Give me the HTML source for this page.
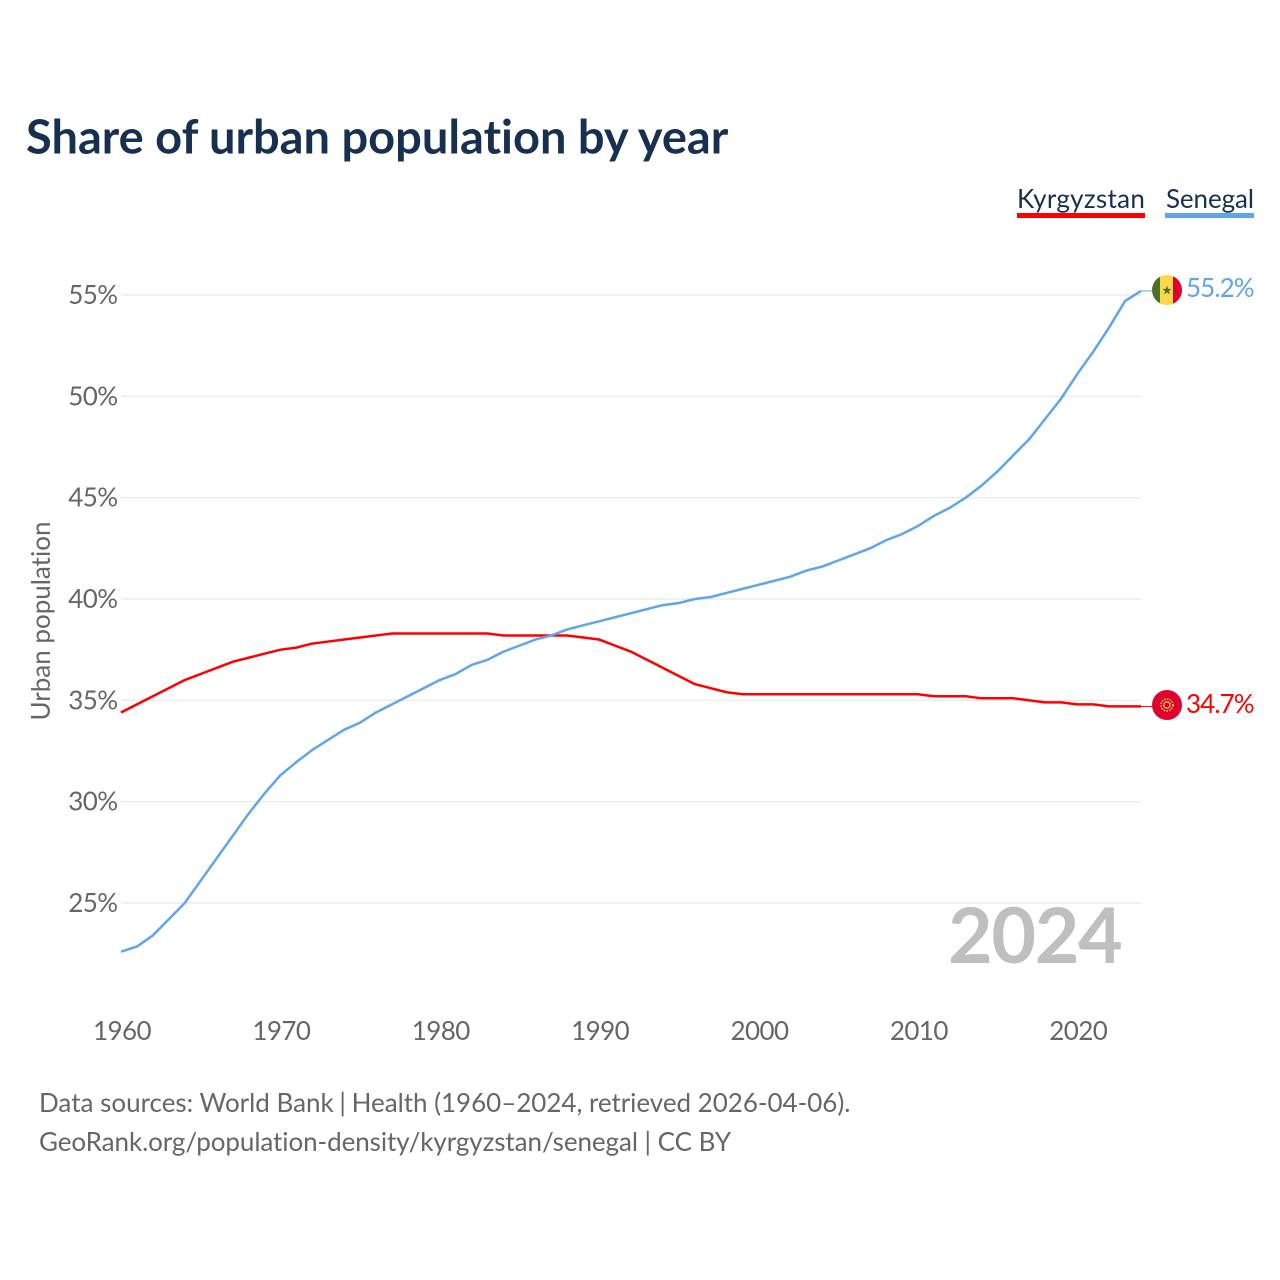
<!DOCTYPE html>
<html>
<head>
<meta charset="utf-8">
<title>Share of urban population by year</title>
<style>
html,body{margin:0;padding:0;background:#fff;}
svg{display:block;}
text{font-family:"Lato","Carlito","Liberation Sans",sans-serif;font-variant-ligatures:none;font-feature-settings:"liga" 0,"clig" 0;}
.num{letter-spacing:-0.6px;}
</style>
</head>
<body>
<svg id="chart" xmlns="http://www.w3.org/2000/svg" width="1280" height="1280" viewBox="0 0 1280 1280">
  <rect width="1280" height="1280" fill="#fff"/>
  <text x="26" y="153.5" font-size="47" font-weight="700" fill="#18304f">Share of urban population by year</text>
  <text x="1017" y="208" font-size="26" letter-spacing="0.3" fill="#18304f">Kyrgyzstan</text>
  <rect x="1017" y="213" width="128" height="5" fill="#ff0000"/>
  <text x="1166" y="208" font-size="26" letter-spacing="-0.1" fill="#18304f">Senegal</text>
  <rect x="1165" y="213" width="89" height="5" fill="#60a5ea"/>
  <g id="grid"></g>
  <g id="yticks"></g>
  <g id="xticks"></g>
  <text transform="translate(50,621) rotate(-90)" text-anchor="middle" font-size="26" fill="#666">Urban population</text>
  <text x="1121.5" y="963" text-anchor="end" font-size="77" font-weight="700" letter-spacing="-1.3" fill="#bfbfbf">2024</text>
  <g id="series"></g>
  <g>
    <clipPath id="senegal-clip"><circle cx="1167" cy="290" r="15"/></clipPath>
    <g clip-path="url(#senegal-clip)">
      <rect x="1152" y="275" width="10" height="30" fill="#4c7028"/>
      <rect x="1160" y="275" width="14" height="30" fill="#ffd84a"/>
      <rect x="1173" y="275" width="9" height="30" fill="#e0002d"/>
      <polygon points="1167,285.5 1168.2,288.9 1171.8,288.9 1168.9,291 1170,294.5 1167,292.4 1164,294.5 1165.1,291 1162.2,288.9 1165.8,288.9" fill="#4c7028"/>
    </g>
  </g>
  <text id="senegal-end-label" class="num" style="letter-spacing:-0.9px" x="1186" y="297" font-size="26" fill="#60a5ea">55.2%</text>
  <g>
    <circle cx="1167" cy="705" r="15" fill="#e0002d"/>
    <circle cx="1167" cy="705" r="6" fill="none" stroke="#ffd84a" stroke-width="1.6" stroke-dasharray="1.6 1.2"/>
    <circle cx="1167" cy="705" r="3.2" fill="none" stroke="#ffd84a" stroke-width="1.2"/>
  </g>
  <text id="kyrgyzstan-end-label" class="num" style="letter-spacing:-0.9px" x="1186" y="713" font-size="26" fill="#ff0000">34.7%</text>
  <text x="39" y="1112" font-size="26" fill="#666">Data sources: World Bank <tspan dx="-1">|</tspan> <tspan dx="-1" letter-spacing="-0.03">Health (1960–2024, retrieved 2026-04-06).</tspan></text>
  <text x="39" y="1151" font-size="26" fill="#666"><tspan letter-spacing="-0.08">GeoRank.org/population-density/kyrgyzstan/senegal </tspan>| CC BY</text>
</svg>
<script>
const startYear = 1960;
const yTickValues = [25, 30, 35, 40, 45, 50, 55];
const xTickValues = [1960, 1970, 1980, 1990, 2000, 2010, 2020];
const senegalValues = [22.6,22.85,23.4,24.2,25.0,26.1,27.2,28.3,29.4,30.4,31.3,31.95,32.55,33.05,33.55,33.9,34.4,34.8,35.2,35.6,36.0,36.3,36.75,37.0,37.4,37.7,38.0,38.2,38.5,38.7,38.9,39.1,39.3,39.5,39.7,39.8,40.0,40.1,40.3,40.5,40.7,40.9,41.1,41.4,41.6,41.9,42.2,42.5,42.9,43.2,43.6,44.1,44.5,45.0,45.6,46.3,47.1,47.9,48.9,49.9,51.1,52.2,53.4,54.7,55.2];
const kyrgyzstanValues = [34.4,34.8,35.2,35.6,36.0,36.3,36.6,36.9,37.1,37.3,37.5,37.6,37.8,37.9,38.0,38.1,38.2,38.3,38.3,38.3,38.3,38.3,38.3,38.3,38.2,38.2,38.2,38.2,38.2,38.1,38.0,37.7,37.4,37.0,36.6,36.2,35.8,35.6,35.4,35.3,35.3,35.3,35.3,35.3,35.3,35.3,35.3,35.3,35.3,35.3,35.3,35.2,35.2,35.2,35.1,35.1,35.1,35.0,34.9,34.9,34.8,34.8,34.7,34.7,34.7];

const NS = 'http://www.w3.org/2000/svg';
function xScale(year) { return 121 + (year - 1960) * (1141 - 121) / 64; }
function yScale(v) { return 903 - (v - 25) * (903 - 295) / 30; }

const gridGroup = document.getElementById('grid');
const yGroup = document.getElementById('yticks');
yTickValues.forEach(function (v) {
  const line = document.createElementNS(NS, 'line');
  
  
  line.setAttribute('x1', 121);
  line.setAttribute('x2', 1141);
  line.setAttribute('y1', yScale(v));
  line.setAttribute('y2', yScale(v));
  line.setAttribute('stroke', '#e8e8e8');
  line.setAttribute('stroke-width', 1.2);
  gridGroup.appendChild(line);
  const t = document.createElementNS(NS, 'text');
  
  
  t.setAttribute('class', 'num');
  t.setAttribute('x', 117.5);
  t.setAttribute('y', yScale(v) + 9);
  t.setAttribute('text-anchor', 'end');
  t.setAttribute('font-size', 26);
  t.setAttribute('fill', '#666');
  t.textContent = v + '%';
  yGroup.appendChild(t);
});

const xGroup = document.getElementById('xticks');
xTickValues.forEach(function (yr) {
  const t = document.createElementNS(NS, 'text');
  
  
  t.setAttribute('class', 'num');
  t.setAttribute('x', xScale(yr) + 1);
  t.setAttribute('y', 1040);
  t.setAttribute('text-anchor', 'middle');
  t.setAttribute('font-size', 26);
  t.setAttribute('fill', '#666');
  t.textContent = yr;
  xGroup.appendChild(t);
});

const seriesGroup = document.getElementById('series');
function pathFor(values) {
  const pts = values.map(function (v, i) {
    return xScale(startYear + i).toFixed(2) + ',' + yScale(v).toFixed(2);
  });
  return 'M' + pts.join(' L');
}
function connectorFor(values) {
  const lastY = yScale(values[values.length - 1]).toFixed(2);
  return 'M' + xScale(startYear + values.length - 1).toFixed(2) + ',' + lastY + ' L1152,' + lastY;
}
const kyrgyzstanLine = document.createElementNS(NS, 'path');


kyrgyzstanLine.setAttribute('d', pathFor(kyrgyzstanValues));
kyrgyzstanLine.setAttribute('fill', 'none');
kyrgyzstanLine.setAttribute('stroke', '#ff0000');
kyrgyzstanLine.setAttribute('stroke-width', 2.5);
seriesGroup.appendChild(kyrgyzstanLine);
const kyrgyzstanConnector = document.createElementNS(NS, 'path');


kyrgyzstanConnector.setAttribute('d', connectorFor(kyrgyzstanValues));
kyrgyzstanConnector.setAttribute('fill', 'none');
kyrgyzstanConnector.setAttribute('stroke', '#ff0000');
kyrgyzstanConnector.setAttribute('stroke-width', 1);
seriesGroup.appendChild(kyrgyzstanConnector);
const senegalLine = document.createElementNS(NS, 'path');


senegalLine.setAttribute('d', pathFor(senegalValues));
senegalLine.setAttribute('fill', 'none');
senegalLine.setAttribute('stroke', '#60a5ea');
senegalLine.setAttribute('stroke-width', 2.5);
seriesGroup.appendChild(senegalLine);
const senegalConnector = document.createElementNS(NS, 'path');


senegalConnector.setAttribute('d', connectorFor(senegalValues));
senegalConnector.setAttribute('fill', 'none');
senegalConnector.setAttribute('stroke', '#60a5ea');
senegalConnector.setAttribute('stroke-width', 1);
seriesGroup.appendChild(senegalConnector);
</script>
</body>
</html>
